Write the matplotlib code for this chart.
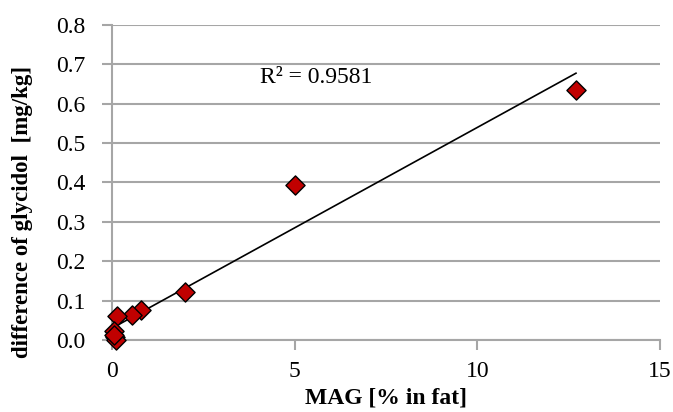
import numpy as np
import matplotlib
matplotlib.use("Agg")
import matplotlib.pyplot as plt

# MAG content vs. difference of glycidol
mag = [12.7, 5.0, 2.0, 0.8, 0.55, 0.15, 0.05, 0.08, 0.1, 0.05]
glycidol_diff = [0.636, 0.394, 0.121, 0.076, 0.064, 0.061, 0.022, 0.008, 0.0, 0.012]
r2_label = "R² = 0.9581"

x_ticks = [0, 5, 10, 15]
y_ticks = [0.0, 0.1, 0.2, 0.3, 0.4, 0.5, 0.6, 0.7, 0.8]

GRID = "#a6a6a6"
FS = 17

plt.rcParams["font.family"] = ["Liberation Serif", "DejaVu Serif"]

fig = plt.figure(figsize=(6.73, 4.12), dpi=100)
ax = fig.add_axes([0.1664, 0.1748, 0.8143, 0.7645])

# linear trendline (least squares), drawn from 0 to the largest MAG value
slope, intercept = np.polyfit(mag, glycidol_diff, 1)
x_fit = np.array([0.0, max(mag)])
ax.plot(x_fit, slope * x_fit + intercept, color="black", lw=1.2, zorder=3)

ax.scatter(mag, glycidol_diff, marker="D", s=95, facecolor="#c00000",
           edgecolor="black", linewidth=1.0, zorder=4, clip_on=False)

ax.text(4.05, 0.667, r2_label, fontsize=FS, va="center", ha="left")

ax.set_xlim(0, 15)
ax.set_ylim(0, 0.8)
ax.set_xticks(x_ticks)
ax.set_yticks(y_ticks)
ax.set_yticklabels([f"{v:.1f}" for v in y_ticks])
ax.tick_params(axis="both", labelsize=FS, color=GRID, width=1.5, length=7)
ax.tick_params(axis="y", pad=12)
ax.tick_params(axis="x", pad=8)

ax.yaxis.grid(True, color=GRID, lw=1.5)
ax.set_axisbelow(True)
for side in ["top", "right"]:
    ax.spines[side].set_visible(False)
for side in ["left", "bottom"]:
    ax.spines[side].set_color(GRID)
    ax.spines[side].set_linewidth(1.5)

ax.set_xlabel("MAG [% in fat]", fontsize=FS, fontweight="bold", labelpad=4)
ax.set_ylabel("difference of glycidol  [mg/kg]", fontsize=16.5, fontweight="bold",
              va="center")
ax.yaxis.set_label_coords(-0.164, 0.406)

fig.savefig("out.png", dpi=100)
